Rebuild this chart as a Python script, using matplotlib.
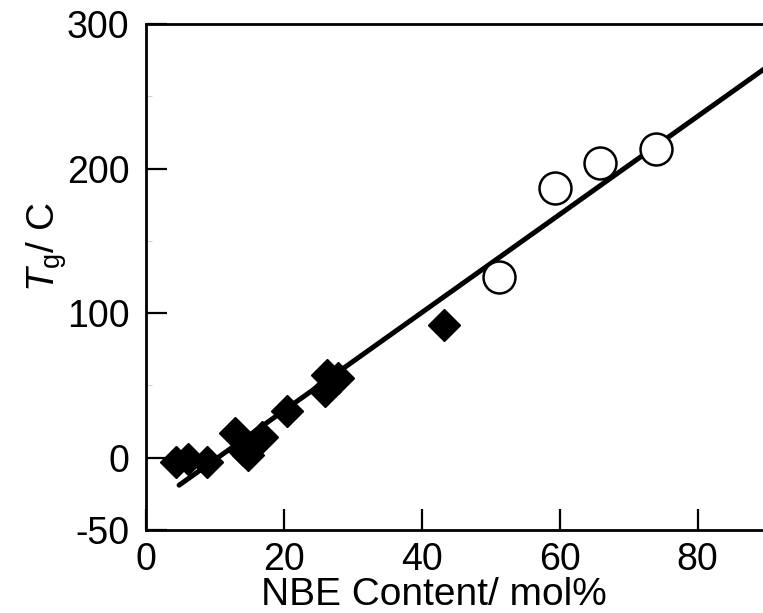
import matplotlib
matplotlib.use("Agg")
import matplotlib.pyplot as plt
from matplotlib.ticker import MultipleLocator

plt.rcParams['font.family'] = ['Liberation Sans', 'DejaVu Sans']
plt.rcParams['mathtext.fontset'] = 'custom'
plt.rcParams['mathtext.it'] = 'Liberation Sans:italic'
plt.rcParams['mathtext.rm'] = 'Liberation Sans'

# filled diamonds (NBE content mol%, Tg)
dia_x = [4.4, 6.1, 8.8, 12.9, 14.1, 14.8, 16.8, 20.4, 26.0, 26.2, 27.9, 43.2]
dia_y = [-3, -0.7, -3, 17, 5, 2, 14, 32.5, 46, 57, 55, 91.6]
# open circles
cir_x = [51.2, 59.3, 65.9, 74.0]
cir_y = [124.8, 186.6, 203.6, 213.4]
# fitted line endpoints
fit_x = [4.8, 90.0]
fit_y = [-19.0, 270.0]

xticks = [0, 20, 40, 60, 80]
yticks = [-50, 0, 100, 200, 300]

fig = plt.figure(figsize=(7.63, 6.13), dpi=100)
ax = fig.add_axes([146/763, 1-530/613, 1-146/763, (530-24)/613])

ax.plot(fit_x, fit_y, color='black', lw=3.6, solid_capstyle='round', zorder=2)
ax.plot(dia_x, dia_y, linestyle='none', marker='D', markersize=16,
        color='black', zorder=3)
ax.plot(cir_x, cir_y, linestyle='none', marker='o', markersize=23,
        markerfacecolor='white', markeredgecolor='black', markeredgewidth=1.8, zorder=3)

ax.set_xlim(0, 89.5)
ax.set_ylim(-50, 300)
ax.set_xticks(xticks)
ax.set_yticks(yticks)
ax.set_xticklabels([str(t) for t in xticks])
ax.set_yticklabels([str(t) for t in yticks])
ax.yaxis.set_minor_locator(MultipleLocator(50))

for s in ['left', 'bottom', 'top']:
    ax.spines[s].set_linewidth(2.0)
ax.spines['right'].set_visible(False)

ax.tick_params(axis='both', which='major', direction='in', length=15, width=1.6,
               labelsize=27, top=False, right=False)
ax.tick_params(axis='y', which='major', pad=12)
ax.tick_params(axis='x', which='major', pad=9)
ax.tick_params(axis='y', which='minor', direction='in', length=4, width=0.5,
               color='#bbbbbb')
ax.tick_params(axis='x', which='minor', bottom=False)

ax.set_xlabel('NBE Content/ mol%', fontsize=28)
ax.xaxis.set_label_coords(0.467, -0.092)
ax.set_ylabel(r'$T_{\mathrm{g}}$/ C', fontsize=28)
ax.yaxis.set_label_coords(-0.125, 0.56)

fig.savefig('out.png', dpi=100)
